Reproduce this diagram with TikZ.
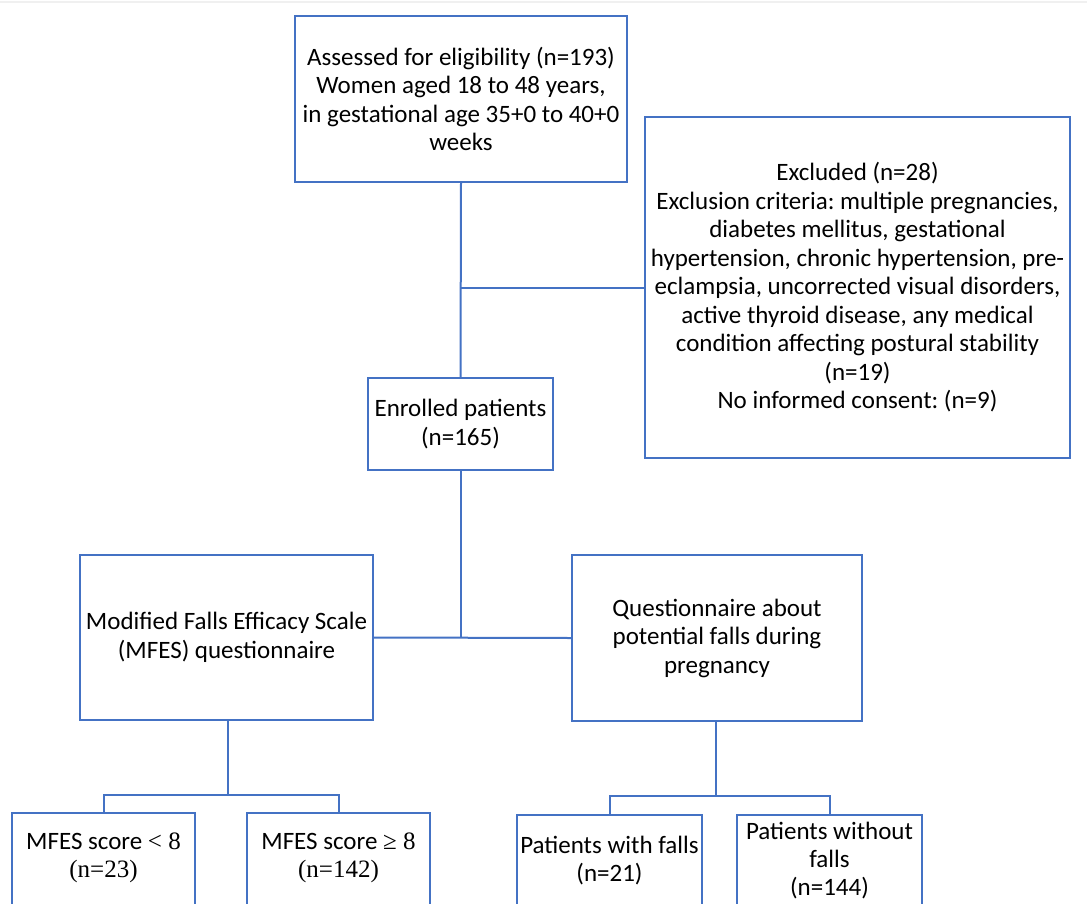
\documentclass[tikz,border=0pt]{standalone}
\usepackage{fontspec}
\setmainfont{Carlito}
\newfontfamily\tnr{Liberation Serif}
\begin{document}
\frenchspacing
\begin{tikzpicture}[x=1pt,y=-1pt,
  box/.style={draw=lineblue, line width=2pt, inner sep=0pt, outer sep=0pt, align=center,
    font=\fontsize{25}{28.5}\selectfont},
  lbl/.style={inner sep=0pt, align=center, font=\fontsize{25}{28}\selectfont},
  conn/.style={draw=lineblue, line width=2pt}]
\definecolor{lineblue}{HTML}{4472C4}
\useasboundingbox (0,0) rectangle (1087,903);
\clip (0,0) rectangle (1087,903);
\draw[gray!12, line width=2pt] (0,2) -- (1087,2);
% main boxes
\node[box, minimum width=332pt, minimum height=166pt] (top) at (461,99)
  {Assessed for eligibility (n=193)\\Women aged 18 to 48 years,\\in gestational age 35+0 to 40+0\\weeks};
\node[box, minimum width=425pt, minimum height=341pt] (excl) at (857.5,287.5)
  {Excluded (n=28)\\Exclusion criteria: multiple pregnancies,\\diabetes mellitus, gestational\\hypertension, chronic hypertension, pre-\\eclampsia, uncorrected visual disorders,\\active thyroid disease, any medical\\condition affecting postural stability\\(n=19)\\No informed consent: (n=9)};
\node[box, minimum width=185pt, minimum height=92pt] (enr) at (460.5,424)
  {Enrolled patients\\(n=165)};
\node[box, minimum width=293pt, minimum height=165pt] (mfes) at (226.5,637.5)
  {Modified Falls Efficacy Scale\\(MFES) questionnaire};
\node[box, minimum width=290pt, minimum height=166pt] (quest) at (717,638)
  {Questionnaire about\\potential falls during\\pregnancy};
% bottom boxes (cut by the lower edge)
\node[box, minimum width=183pt, minimum height=140pt] (b1) at (103.5,883) {};
\node[box, minimum width=183pt, minimum height=140pt] (b2) at (338.5,883) {};
\node[box, minimum width=185pt, minimum height=140pt] (b3) at (609.5,885) {};
\node[box, minimum width=185pt, minimum height=140pt] (b4) at (829.5,885) {};
\node[lbl] (t1) at (103.5,858) {MFES score {\tnr < 8}\\{\tnr (n=23)}};
\node[lbl] (t2) at (338.5,858) {MFES score {\tnr ≥ 8}\\{\tnr (n=142)}};
\node[lbl] (t3) at (609.5,861) {Patients with falls\\(n=21)};
\node[lbl] (t4) at (829.5,861) {Patients without\\falls\\(n=144)};
% connectors
\coordinate (j1) at (top.south |- excl.west);
\draw[conn] (top.south) -- (enr.north);
\draw[conn] (j1) -- (excl.west);
\draw[conn] (enr.south) -- (enr.south |- mfes.east);
\draw[conn] (mfes.east) -- (quest.west);
\coordinate (m1) at (228,795);
\coordinate (q1) at (716,796);
\draw[conn] (mfes.south -| m1) -- (m1);
\draw[conn] (b1.north) |- (m1) -| (b2.north);
\draw[conn] (quest.south -| q1) -- (q1);
\draw[conn] (b3.north) |- (q1) -| (b4.north);
\end{tikzpicture}
\end{document}
